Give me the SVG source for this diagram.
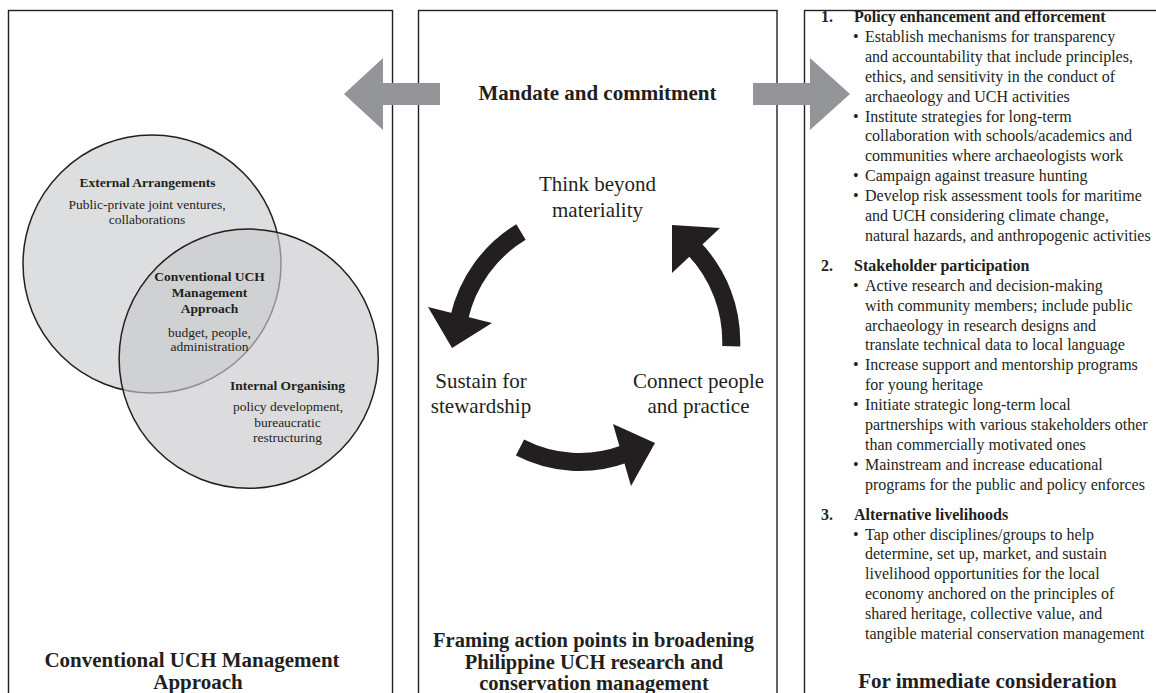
<svg xmlns="http://www.w3.org/2000/svg" width="1156" height="693" viewBox="0 0 1156 693">
<style>
.panel{fill:none;stroke:#231f20;stroke-width:1.4}
text{font-family:"Liberation Serif","Times New Roman",serif;fill:#231f20}
.b{font-weight:bold}
.t21{font-size:21px}
.t20{font-size:20.5px}
.s13{font-size:13.5px}
.r16{font-size:16px}
.m{text-anchor:middle}
.gray{fill:#939598}
.cyc{fill:none;stroke:#231f20;stroke-width:18}
.head{fill:#231f20}
</style>
<rect width="1156" height="693" fill="#ffffff"/>

<g id="panel-left">
<rect class="panel" x="8.5" y="10.5" width="384" height="720"/>
<circle cx="152" cy="264" r="129" fill="#dddedf" stroke="#231f20" stroke-width="1.5"/>
<circle cx="248.7" cy="358.7" r="129.6" fill="#c9cacc" fill-opacity="0.65" stroke="#231f20" stroke-width="1.5"/>
<g class="s13 m">
<text class="b" x="147.5" y="187">External Arrangements</text>
<text x="147" y="209">Public-private joint ventures,</text>
<text x="147" y="223.5">collaborations</text>
<text class="b" x="209.5" y="281">Conventional UCH</text>
<text class="b" x="209.5" y="297">Management</text>
<text class="b" x="209.5" y="312.5">Approach</text>
<text x="209.5" y="337">budget, people,</text>
<text x="209.5" y="351">administration</text>
<text class="b" x="287.5" y="390">Internal Organising</text>
<text x="288" y="411">policy development,</text>
<text x="287.5" y="427">bureaucratic</text>
<text x="287.5" y="442">restructuring</text>
</g>
<text class="b t21 m" x="192" y="667">Conventional UCH Management</text>
<text class="b t21 m" x="198" y="689">Approach</text>
</g>

<g id="panel-middle">
<rect class="panel" x="418.5" y="10.5" width="358.5" height="720"/>
<text class="b t21 m" x="597.5" y="100">Mandate and commitment</text>
<g id="node-think" class="t21 m">
<text x="597.5" y="191">Think beyond</text>
<text x="597.5" y="216.5">materiality</text>
</g>
<g id="node-sustain" class="t21 m">
<text x="481" y="388">Sustain for</text>
<text x="481" y="413">stewardship</text>
</g>
<g id="node-connect" class="t21 m">
<text x="698.5" y="388">Connect people</text>
<text x="698.5" y="413">and practice</text>
</g>
<g class="b t20 m">
<text x="593.5" y="647">Framing action points in broadening</text>
<text x="594" y="668.5">Philippine UCH research and</text>
<text x="594" y="690">conservation management</text>
</g>
</g>

<g id="panel-right">
<rect class="panel" x="804.5" y="10.5" width="400" height="720"/>
<g class="r16">
<text class="b" x="821" y="22">1.</text>
<text class="b" x="854" y="22">Policy enhancement and efforcement</text>
<text x="853" y="41.9">•</text><text x="865" y="41.9">Establish mechanisms for transparency</text>
<text x="865" y="61.8">and accountability that include principles,</text>
<text x="865" y="81.7">ethics, and sensitivity in the conduct of</text>
<text x="865" y="101.6">archaeology and UCH activities</text>
<text x="853" y="121.5">•</text><text x="865" y="121.5">Institute strategies for long-term</text>
<text x="865" y="141.4">collaboration with schools/academics and</text>
<text x="865" y="161.3">communities where archaeologists work</text>
<text x="853" y="181.2">•</text><text x="865" y="181.2">Campaign against treasure hunting</text>
<text x="853" y="201.1">•</text><text x="865" y="201.1">Develop risk assessment tools for maritime</text>
<text x="865" y="221">and UCH considering climate change,</text>
<text x="865" y="240.9">natural hazards, and anthropogenic activities</text>

<text class="b" x="821" y="270.8">2.</text>
<text class="b" x="854" y="270.8">Stakeholder participation</text>
<text x="853" y="290.7">•</text><text x="865" y="290.7">Active research and decision-making</text>
<text x="865" y="310.6">with community members; include public</text>
<text x="865" y="330.5">archaeology in research designs and</text>
<text x="865" y="350.4">translate technical data to local language</text>
<text x="853" y="370.3">•</text><text x="865" y="370.3">Increase support and mentorship programs</text>
<text x="865" y="390.2">for young heritage</text>
<text x="853" y="410.1">•</text><text x="865" y="410.1">Initiate strategic long-term local</text>
<text x="865" y="430">partnerships with various stakeholders other</text>
<text x="865" y="449.9">than commercially motivated ones</text>
<text x="853" y="469.8">•</text><text x="865" y="469.8">Mainstream and increase educational</text>
<text x="865" y="489.7">programs for the public and policy enforces</text>

<text class="b" x="821" y="519.6">3.</text>
<text class="b" x="854" y="519.6">Alternative livelihoods</text>
<text x="853" y="539.5">•</text><text x="865" y="539.5">Tap other disciplines/groups to help</text>
<text x="865" y="559.4">determine, set up, market, and sustain</text>
<text x="865" y="579.3">livelihood opportunities for the local</text>
<text x="865" y="599.2">economy anchored on the principles of</text>
<text x="865" y="619.1">shared heritage, collective value, and</text>
<text x="865" y="639">tangible material conservation management</text>
</g>
<text class="b t21 m" x="987.5" y="688">For immediate consideration</text>
</g>

<g id="connectors">
<polygon class="gray" points="344,94 383,58 383,83 440,83 440,105 383,105 383,130"/>
<polygon class="gray" points="850,94 810,58 810,83 753,83 753,105 810,105 810,130"/>
<path class="cyc" d="M 521 232 A 135 135 0 0 0 459.3 317.6"/>
<polygon class="head" points="428,307 492,323 452,348"/>
<path class="cyc" d="M 520 447.5 A 130 130 0 0 0 624.5 454"/>
<polygon class="head" points="613,424 655,443 631,486"/>
<path class="cyc" d="M 731.2 346.2 A 135 135 0 0 0 693.8 248.3"/>
<polygon class="head" points="672,225 720,228 672,273"/>
</g>
</svg>
